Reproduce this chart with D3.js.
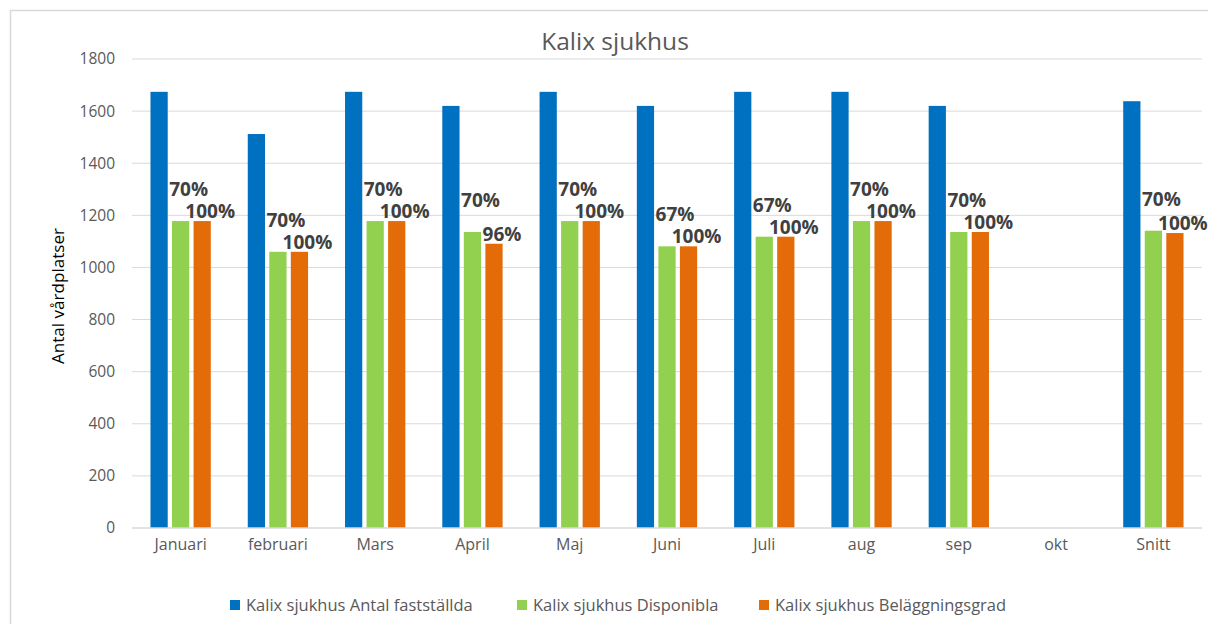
<!DOCTYPE html>
<html lang="sv">
<head>
    <meta charset="UTF-8">
    <title>Kalix sjukhus</title>
    <script src="https://d3js.org/d3.v7.min.js"></script>
    <style>
        body { margin: 0; background: #fff; }
        text { font-family: "Open Sans", sans-serif; }
    </style>
</head>
<body>
    <svg></svg>
    <script>
        // categories and series (null = no data)
        var months = ["Januari", "februari", "Mars", "April", "Maj", "Juni", "Juli", "aug", "sep", "okt", "Snitt"];
        var seriesNames = ["Kalix sjukhus Antal fastställda", "Kalix sjukhus Disponibla", "Kalix sjukhus Beläggningsgrad"];
        var fastställda = [1674, 1512, 1674, 1620, 1674, 1620, 1674, 1674, 1620, null, 1638];
        var disponibla = [1178, 1060, 1178, 1136, 1178, 1081, 1118, 1178, 1136, null, 1141];
        var beläggning = [1178, 1060, 1178, 1091, 1178, 1081, 1118, 1178, 1136, null, 1132];
        var dispLabels = ["70%", "70%", "70%", "70%", "70%", "67%", "67%", "70%", "70%", null, "70%"];
        var belLabels = ["100%", "100%", "100%", "96%", "100%", "100%", "100%", "100%", "100%", null, "100%"];
        var yTicks = [0, 200, 400, 600, 800, 1000, 1200, 1400, 1600, 1800];
        var colors = ["#0070C0", "#92D050", "#E36C09"];

        var W = 1208, H = 624;
        var plot = {left: 132, right: 1202, top: 59, bottom: 528};

        var svg = d3.select("svg").attr("width", W).attr("height", H);

        // chart frame
        svg.append("rect")
            .attr("x", 10.5).attr("y", 10.5)
            .attr("width", 1220).attr("height", 640)
            .attr("fill", "#fff")
            .attr("stroke", "#d9d9d9")
            .attr("stroke-width", 1.5);

        var x = d3.scaleBand().domain(months).range([plot.left, plot.right]).padding(0);
        var groupW = x.bandwidth() * 0.62;
        var xs = d3.scaleBand().domain([0, 1, 2]).range([0, groupW]).paddingInner(0.2).paddingOuter(0);
        var y = d3.scaleLinear().domain([0, 1800]).range([plot.bottom, plot.top]);

        // gridlines
        svg.append("g")
            .selectAll("line")
            .data(yTicks.slice(1))
            .enter()
            .append("line")
            .attr("x1", plot.left).attr("x2", plot.right)
            .attr("y1", function(d){ return y(d); })
            .attr("y2", function(d){ return y(d); })
            .attr("stroke", "#d9d9d9")
            .attr("stroke-width", 1);

        // y axis labels
        var yAxis = svg.append("g")
            .attr("transform", "translate(" + plot.left + ",0)")
            .call(d3.axisLeft(y).tickValues(yTicks).tickFormat(d3.format("d")).tickSize(0).tickPadding(17));
        yAxis.select(".domain").remove();
        yAxis.selectAll("text")
            .attr("fill", "#595959")
            .attr("font-size", 15.5)
            .attr("font-family", "Open Sans, sans-serif");

        // bars
        var all = [fastställda, disponibla, beläggning];
        var bars = svg.append("g");
        all.forEach(function(vals, s){
            bars.selectAll("rect.s" + s)
                .data(months.map(function(m, i){ return {m: m, v: vals[i]}; }).filter(function(d){ return d.v != null; }))
                .enter()
                .append("rect")
                .attr("class", "s" + s)
                .attr("x", function(d){ return x(d.m) + (x.bandwidth() - groupW) / 2 + xs(s); })
                .attr("y", function(d){ return y(d.v); })
                .attr("width", xs.bandwidth())
                .attr("height", function(d){ return y(0) - y(d.v); })
                .attr("fill", colors[s]);
        });

        // x axis baseline + labels
        svg.append("line")
            .attr("x1", plot.left).attr("x2", plot.right)
            .attr("y1", y(0)).attr("y2", y(0))
            .attr("stroke", "#d9d9d9")
            .attr("stroke-width", 1.5);
        var xAxis = svg.append("g")
            .attr("transform", "translate(0," + y(0) + ")")
            .call(d3.axisBottom(x).tickSize(0).tickPadding(11));
        xAxis.select(".domain").remove();
        xAxis.selectAll("text")
            .attr("fill", "#595959")
            .attr("font-size", 16)
            .attr("font-family", "Open Sans, sans-serif");

        // data labels
        function addLabels(vals, labels, s, dy){
            svg.append("g")
                .selectAll("text")
                .data(months.map(function(m, i){ return {m: m, v: vals[i], t: labels[i]}; }).filter(function(d){ return d.v != null; }))
                .enter()
                .append("text")
                .attr("x", function(d){ return x(d.m) + (x.bandwidth() - groupW) / 2 + xs(s) + xs.bandwidth() / 2 + 8; })
                .attr("y", function(d){ return y(d.v) - dy; })
                .attr("text-anchor", "middle")
                .attr("font-size", 19)
                .attr("font-weight", "bold")
                .attr("fill", "#404040")
                .text(function(d){ return d.t; });
        }
        addLabels(disponibla, dispLabels, 1, 25);
        addLabels(beläggning, belLabels, 2, 3);

        // title
        svg.append("text")
            .attr("x", 615).attr("y", 50)
            .attr("text-anchor", "middle")
            .attr("font-size", 24.5)
            .attr("fill", "#595959")
            .text("Kalix sjukhus");

        // y axis title
        svg.append("text")
            .attr("transform", "translate(64,296) rotate(-90)")
            .attr("text-anchor", "middle")
            .attr("font-size", 17)
            .attr("textLength", 136)
            .attr("lengthAdjust", "spacingAndGlyphs")
            .attr("font-family", "Liberation Sans Narrow, Liberation Sans, sans-serif")
            .attr("fill", "#000")
            .text("Antal vårdplatser");

        // legend
        var legendX = [230, 517, 759];
        var legend = svg.append("g");
        seriesNames.forEach(function(name, i){
            legend.append("rect")
                .attr("x", legendX[i]).attr("y", 600)
                .attr("width", 10).attr("height", 10)
                .attr("fill", colors[i]);
            legend.append("text")
                .attr("x", legendX[i] + 16).attr("y", 611)
                .attr("font-size", 16.5)
                .attr("fill", "#595959")
                .text(name);
        });
    </script>
</body>
</html>
